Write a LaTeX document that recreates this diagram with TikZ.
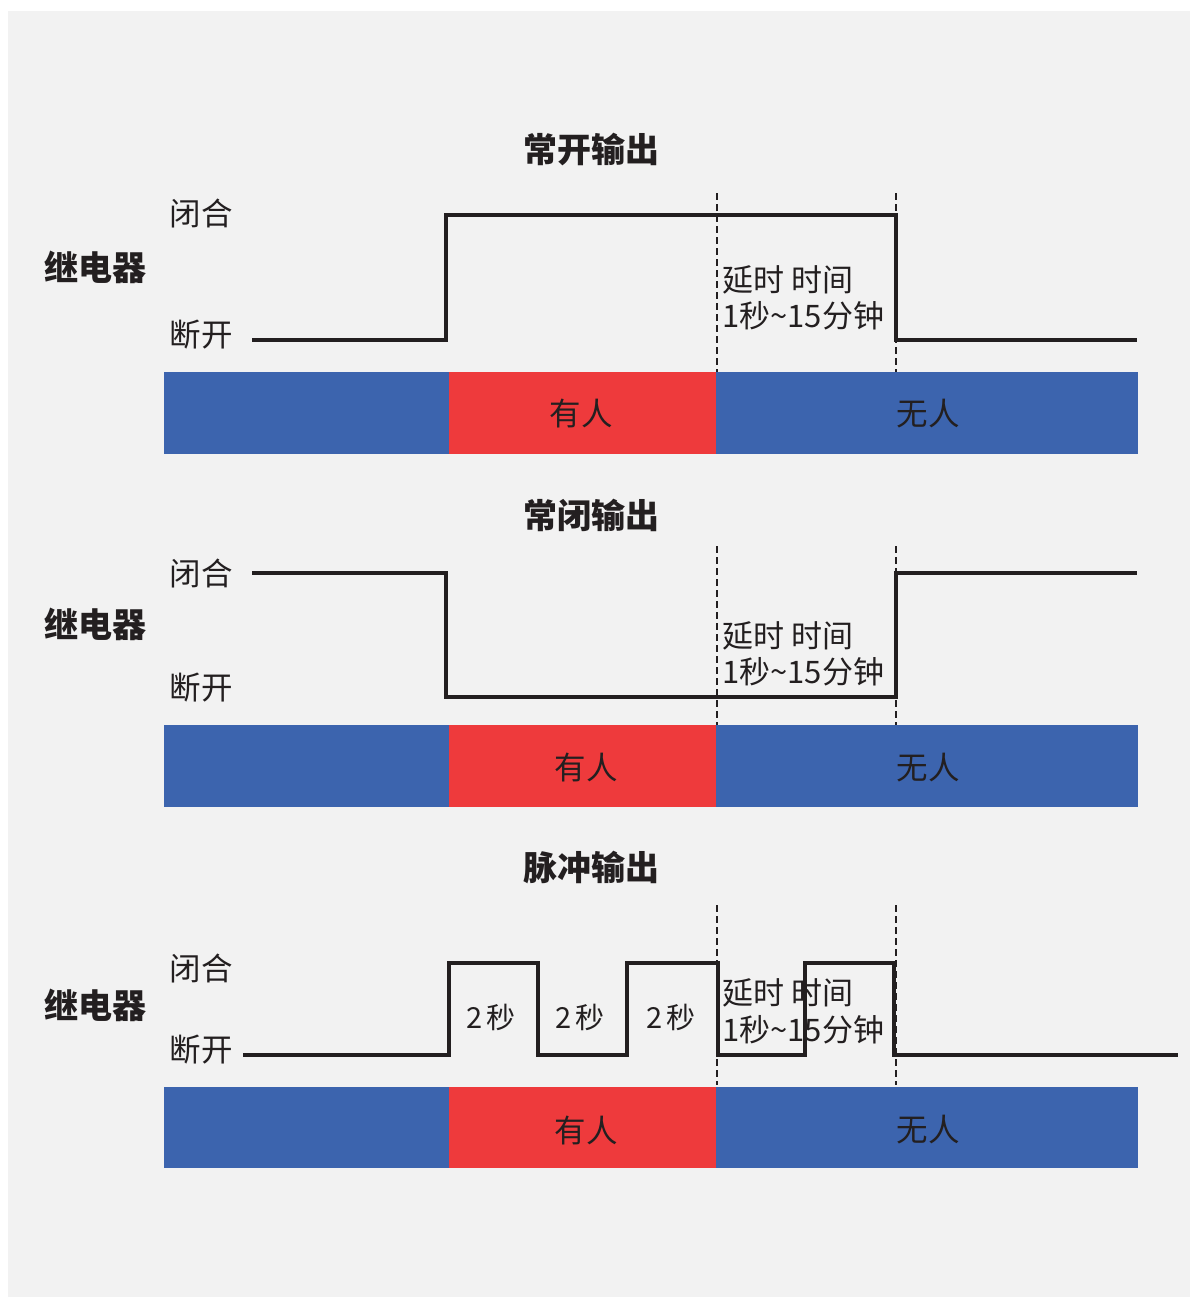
\documentclass[tikz,border=0pt]{standalone}
\usepackage{fontspec}
\newfontfamily\cjk{Noto Sans CJK SC}
\definecolor{bg}{HTML}{F2F2F2}
\definecolor{barblue}{HTML}{3C64AE}
\definecolor{barred}{HTML}{EE3A3C}
\definecolor{ink}{HTML}{231F20}
\begin{document}
\begin{tikzpicture}[x=1pt,y=-1pt,
  title/.style={font=\cjk\bfseries\fontsize{34}{40}\selectfont, text=ink, inner sep=0},
  relay/.style={font=\cjk\bfseries\fontsize{34}{40}\selectfont, text=ink, inner sep=0},
  lbl/.style={font=\cjk\fontsize{31.5}{36}\selectfont, text=ink, inner sep=0},
  sec/.style={font=\cjk\fontsize{29}{34}\selectfont, text=ink, inner sep=0},
  dly/.style={font=\cjk\fontsize{31}{36}\selectfont, text=ink, inner sep=0, anchor=west},
  barlbl/.style={font=\cjk\fontsize{31.5}{36}\selectfont, text=ink, inner sep=0},
  wave/.style={draw=ink, line width=4pt, line join=miter},
  guide/.style={draw=ink, line width=1.8pt, dash pattern=on 7pt off 4pt}]
\useasboundingbox (0,0) rectangle (1192,1299);
\fill[white] (0,0) rectangle (1192,1299);
\fill[bg] (8,11) rectangle (1190,1297);

% ---------- Section 1: 常开输出 ----------
\node[title] (t1) at (591,150) {常开输出};
\node[relay] (r1) at (95,267) {继电器};
\node[lbl] (c1) at (201,213) {闭合};
\node[lbl] (o1) at (201,335) {断开};
\draw[guide] (717,193) -- (717,372);
\draw[guide] (896,193) -- (896,372);
\draw[wave] (252,340) -- (446,340) -- (446,215) -- (896,215) -- (896,340) -- (1137,340);
\node[dly] (d1a) at (722,280) {延时 时间};
\node[dly] (d1b) at (722,316) {1秒\textasciitilde 15分钟};
\fill[barblue] (164,372) rectangle (449,454);
\fill[barred] (449,372) rectangle (716,454);
\fill[barblue] (716,372) rectangle (1138,454);
\node[barlbl] (p1) at (581,414) {有人};
\node[barlbl] (n1) at (928,414) {无人};

% ---------- Section 2: 常闭输出 ----------
\node[title] (t2) at (591,515) {常闭输出};
\node[relay] (r2) at (95,624) {继电器};
\node[lbl] (c2) at (201,573) {闭合};
\node[lbl] (o2) at (201,688) {断开};
\draw[guide] (717,546) -- (717,725);
\draw[guide] (896,546) -- (896,725);
\draw[wave] (252,573) -- (446,573) -- (446,697) -- (896,697) -- (896,573) -- (1137,573);
\node[dly] (d2a) at (722,636) {延时 时间};
\node[dly] (d2b) at (722,672) {1秒\textasciitilde 15分钟};
\fill[barblue] (164,725) rectangle (449,807);
\fill[barred] (449,725) rectangle (716,807);
\fill[barblue] (716,725) rectangle (1138,807);
\node[barlbl] (p2) at (586,768) {有人};
\node[barlbl] (n2) at (928,768) {无人};

% ---------- Section 3: 脉冲输出 ----------
\node[title] (t3) at (591,867) {脉冲输出};
\node[relay] (r3) at (95,1005) {继电器};
\node[lbl] (c3) at (201,968) {闭合};
\node[lbl] (o3) at (201,1050) {断开};
\draw[guide] (717,905) -- (717,1085);
\draw[guide] (896,905) -- (896,1085);
\draw[wave] (243,1055) -- (449,1055) -- (449,963) -- (538,963) -- (538,1055) -- (627,1055) -- (627,963) -- (718,963) -- (718,1055) -- (805,1055) -- (805,963) -- (894,963) -- (894,1055) -- (1178,1055);
\node[sec] (s1) at (491,1017) {2\,秒};
\node[sec] (s2) at (580,1017) {2\,秒};
\node[sec] (s3) at (671,1017) {2\,秒};
\node[dly] (d3a) at (722,993) {延时 时间};
\node[dly] (d3b) at (722,1030) {1秒\textasciitilde 15分钟};
\fill[barblue] (164,1087) rectangle (449,1168);
\fill[barred] (449,1087) rectangle (716,1168);
\fill[barblue] (716,1087) rectangle (1138,1168);
\node[barlbl] (p3) at (586,1130) {有人};
\node[barlbl] (n3) at (928,1130) {无人};
\end{tikzpicture}
\end{document}
